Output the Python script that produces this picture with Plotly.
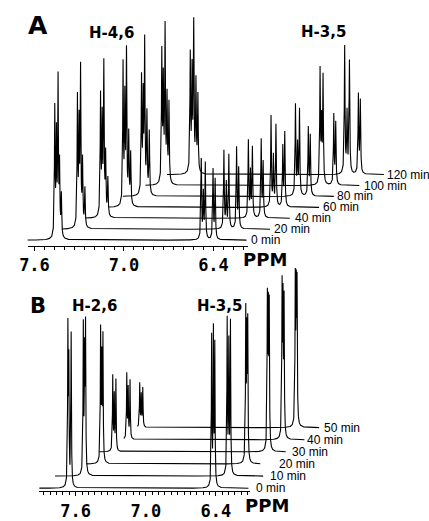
import numpy as np
import plotly.graph_objects as go

# ---------------- Panel A : spectra 0-120 min ----------------
A_times = ["0 min", "20 min", "40 min", "60 min", "80 min", "100 min", "120 min"]
A_h46_ppm = [
    [7.464, 7.453, 7.442, 7.432, 7.420],
    [7.470, 7.459, 7.449, 7.436, 7.420],
    [7.473, 7.462, 7.451, 7.439, 7.424],
    [7.480, 7.468, 7.457, 7.442, 7.429],
    [7.514, 7.503, 7.493, 7.478, 7.462],
    [7.536, 7.526, 7.514, 7.501, 7.488],
    [7.503, 7.491, 7.480, 7.465, 7.452],
]
A_h46_int = [
    [129, 100, 156, 70, 42],
    [129, 100, 156, 65, 39],
    [120, 95, 150, 60, 38],
    [141, 105, 152, 70, 52],
    [116, 95, 151, 80, 63],
    [130, 100, 154, 85, 80],
    [118, 100, 147, 90, 77],
]
A_h35_ppm = [
    [6.482, 6.468, 6.455, 6.403, 6.389],
    [6.488, 6.472, 6.455, 6.403, 6.389],
    [6.482, 6.468, 6.455, 6.396, 6.383],
    [6.488, 6.472, 6.455, 6.409, 6.396],
    [6.482, 6.468, 6.455, 6.396, 6.383],
    [6.475, 6.465, 6.455, 6.383, 6.370],
    [6.468, 6.452, 6.436, 6.376, 6.363],
]
A_h35_int = [
    [80, 45, 76, 70, 60],
    [78, 45, 74, 81, 60],
    [77, 45, 70, 78, 55],
    [91, 50, 82, 60, 74],
    [91, 50, 86, 68, 60],
    [114, 60, 107, 70, 62],
    [128, 60, 113, 79, 73],
]
A_start = [7.646, 7.574, 7.574, 7.574, 7.639, 7.646, 7.659]
A_end = [6.179, 6.179, 6.205, 6.166, 6.225, 6.212, 6.205]
A_ticks = [7.6, 7.0, 6.4]

# ---------------- Panel B : spectra 0-50 min ----------------
B_times = ["0 min", "10 min", "20 min", "30 min", "40 min", "50 min"]
B_h26_ppm = [
    [7.667, 7.659, 7.639],
    [7.661, 7.650, 7.642],
    [7.639, 7.629, 7.619],
    [7.661, 7.648, 7.634],
    [7.667, 7.655, 7.639],
    [7.682, 7.669, 7.656],
]
B_h26_int = [
    [157, 120, 154],
    [148, 115, 145],
    [131, 100, 124],
    [75, 55, 71],
    [65, 50, 59],
    [44, 32, 39],
]
B_h35_ppm = [
    [6.436, 6.421, 6.409],
    [6.429, 6.415, 6.401],
    [6.396, 6.387, 6.379],
    [6.337, 6.329, 6.321],
    [6.337, 6.329, 6.320],
    [6.350, 6.342, 6.335],
]
B_h35_int = [
    [150, 154, 140],
    [155, 130, 152],
    [148, 120, 135],
    [147, 130, 140],
    [148, 130, 135],
    [147, 125, 135],
]
B_start = [7.911, 7.903, 7.760, 7.776, 7.692, 7.701]
B_end = [6.121, 6.121, 6.272, 6.180, 6.146, 6.146]
B_ticks = [7.6, 7.0, 6.4]

# ---------------- stacking / style constants ----------------
W, H = 429, 521
A_DX, A_DY = 24 / 152, 11.0      # stack shift per spectrum (ppm, intensity)
B_DX, B_DY = 15 / 119, 12.2
A_GAP = [4, 3, 4, 3, 2, 4, 2]
B_GAP = [7, 6, 18, 5, 2, 4]
HWHM = 0.0028
LINE = dict(color="black", width=1.1)


def spectrum(start, end, centers, heights):
    grid = np.linspace(end, start, int((start - end) / 0.0008))
    c = np.asarray(centers, dtype=float)
    grid = np.unique(np.concatenate([grid, c, c - 0.0015, c + 0.0015]))
    grid = grid[(grid >= end) & (grid <= start)]
    y = np.zeros_like(grid)
    for ci, hi in zip(centers, heights):
        y += hi * HWHM ** 2 / ((grid - ci) ** 2 + HWHM ** 2)
    return grid, y


fig = go.Figure()
annotations = []
lbl_font = dict(family="Liberation Sans", size=12, color="black")

n = len(A_times)
for i in reversed(range(n)):
    x, y = spectrum(A_start[i], A_end[i], A_h46_ppm[i] + A_h35_ppm[i],
                    A_h46_int[i] + A_h35_int[i])
    fig.add_trace(go.Scatter(x=x - i * A_DX, y=y + i * A_DY, mode="lines",
                             line=LINE, xaxis="x", yaxis="y",
                             hoverinfo="skip", showlegend=False))
    annotations.append(dict(x=A_end[i] - i * A_DX, y=i * A_DY, xref="x", yref="y",
                            text=A_times[i], showarrow=False, xanchor="left",
                            yanchor="middle", xshift=A_GAP[i] - 1, font=lbl_font))

n = len(B_times)
for i in reversed(range(n)):
    x, y = spectrum(B_start[i], B_end[i], B_h26_ppm[i] + B_h35_ppm[i],
                    B_h26_int[i] + B_h35_int[i])
    fig.add_trace(go.Scatter(x=x - i * B_DX, y=y + i * B_DY, mode="lines",
                             line=LINE, xaxis="x2", yaxis="y2",
                             hoverinfo="skip", showlegend=False))
    annotations.append(dict(x=B_end[i] - i * B_DX, y=i * B_DY, xref="x2", yref="y2",
                            text=B_times[i], showarrow=False, xanchor="left",
                            yanchor="middle", xshift=B_GAP[i] - 1, font=lbl_font))

# empty traces so that the ppm scale axes are drawn
fig.add_trace(go.Scatter(x=[], y=[], xaxis="x3", yaxis="y", showlegend=False))
fig.add_trace(go.Scatter(x=[], y=[], xaxis="x4", yaxis="y2", showlegend=False))


def px(v):
    return v / W


def py(v):
    return 1 - v / H


def head(text, x, y, size):
    return dict(x=px(x), y=py(y), xref="paper", yref="paper", text="<b>%s</b>" % text,
                showarrow=False, xanchor="center", yanchor="middle",
                font=dict(family="DejaVu Sans", size=size, color="black"))


annotations += [
    head("A", 31, 26, 25),
    head("H-4,6", 105, 33, 15),
    head("H-3,5", 321, 32, 15),
    head("PPM", 262, 262, 18),
    head("B", 31, 308, 21),
    head("H-2,6", 88, 308, 15),
    head("H-3,5", 216, 308, 15),
    head("PPM", 264, 509, 18),
]

tickfont = dict(family="DejaVu Sans Mono", size=17, color="black")


def scale_axis(lo_px, hi_px, ref_px, ppm_per_px, ref_ppm, pos_px, ticks, minor_dt):
    return dict(domain=[px(lo_px), px(hi_px)],
                range=[ref_ppm + (ref_px - lo_px) * ppm_per_px,
                       ref_ppm - (hi_px - ref_px) * ppm_per_px],
                anchor="free", position=py(pos_px), showline=True, linecolor="black",
                linewidth=1, showgrid=False, zeroline=False, ticks="outside",
                ticklen=4, tickwidth=1, tickcolor="black", tickmode="array",
                tickvals=ticks, ticktext=["<b>%.1f</b>" % t for t in ticks],
                tickfont=tickfont,
                minor=dict(ticks="outside", ticklen=3, tickwidth=1, tickcolor="black",
                           tickmode="linear", tick0=6.4, dtick=minor_dt, showgrid=False))


fig.update_layout(
    width=W, height=H, margin=dict(l=0, r=0, t=0, b=0),
    paper_bgcolor="white", plot_bgcolor="rgba(0,0,0,0)", showlegend=False,
    xaxis=dict(domain=[0, 1], range=[7.6 + 27 / 152, 7.6 - 402 / 152], visible=False, anchor="y"),
    yaxis=dict(domain=[py(260), 1], range=[-18, 242], visible=False, anchor="x"),
    xaxis2=dict(domain=[0, 1], range=[7.6 + 69 / 119, 7.6 - 360 / 119], visible=False, anchor="y2"),
    yaxis2=dict(domain=[0, py(270)], range=[-29, 222], visible=False, anchor="x2"),
    xaxis3=scale_axis(20, 245, 27, 1 / 152, 7.6, 248, A_ticks, 0.6 / 9),
    xaxis4=scale_axis(32, 247, 69, 1 / 119, 7.6, 495, B_ticks, 0.6 / 11),
    annotations=annotations,
)

fig.write_html("out.html", config={"displayModeBar": False},
               post_script="document.body.style.margin='0px';")
